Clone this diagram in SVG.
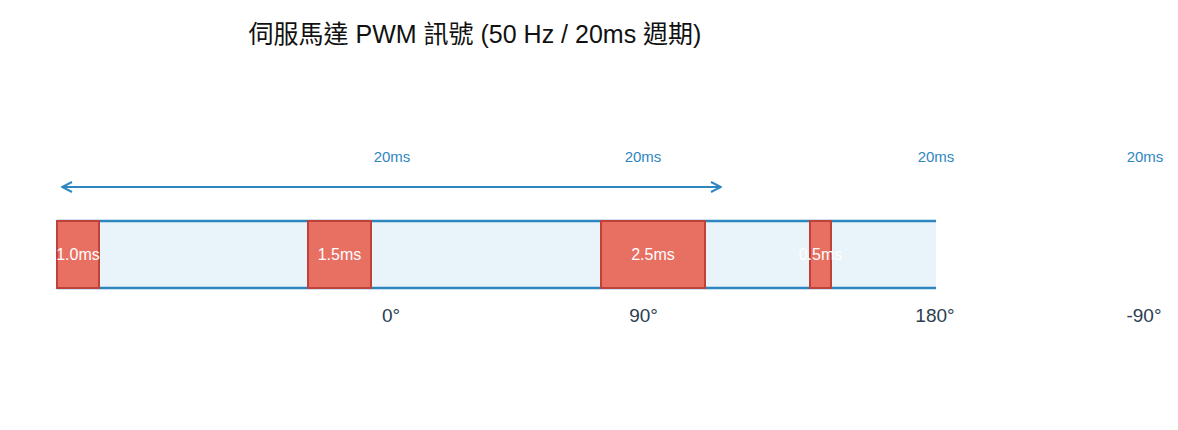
<svg xmlns="http://www.w3.org/2000/svg" width="1178" height="430" viewBox="0 0 1178 430">
<style>
.title{font-family:"Liberation Sans","Noto Sans CJK TC",sans-serif;font-size:25px;fill:#111}
.band{fill:#e8f4f9}
.edge{stroke:#2e86c1;stroke-width:2.5;fill:none}
.pulse{fill:#e87063;stroke:#c0413a;stroke-width:2}
.plabel{font-family:"Liberation Sans",sans-serif;font-size:16px;fill:#ffffff;text-anchor:middle}
.ms{font-family:"Liberation Sans",sans-serif;font-size:15px;fill:#2e86c1;text-anchor:middle}
.deg{font-family:"Liberation Sans",sans-serif;font-size:19px;fill:#2c3e50;text-anchor:middle}
.arrow{stroke:#2e86c1;stroke-width:2;fill:none}
</style>
<defs>
<marker id="chev" viewBox="0 0 12 12" refX="11" refY="6" markerWidth="12" markerHeight="12" markerUnits="userSpaceOnUse" orient="auto-start-reverse">
<path d="M1,1 L11,6 L1,11" fill="none" stroke="#2e86c1" stroke-width="2"/>
</marker>
</defs>
<text class="title" x="475" y="43" text-anchor="middle">伺服馬達 PWM 訊號 (50 Hz / 20ms 週期)</text>
<g id="signal">
<rect class="band" x="57" y="221" width="879" height="67"/>
<line class="edge" x1="57" y1="221" x2="936" y2="221"/>
<line class="edge" x1="57" y1="288" x2="936" y2="288"/>
</g>
<g id="connectors">
<line class="arrow" x1="62" y1="187" x2="721" y2="187" marker-start="url(#chev)" marker-end="url(#chev)"/>
</g>
<g id="pulse1"><rect class="pulse" x="57" y="221" width="42" height="67"/><text class="plabel" x="78" y="260">1.0ms</text></g>
<g id="pulse2"><rect class="pulse" x="308" y="221" width="63" height="67"/><text class="plabel" x="339.5" y="260">1.5ms</text></g>
<g id="pulse3"><rect class="pulse" x="601" y="221" width="104" height="67"/><text class="plabel" x="653" y="260">2.5ms</text></g>
<g id="pulse4"><rect class="pulse" x="810" y="221" width="21" height="67"/><text class="plabel" x="820.5" y="260">0.5ms</text></g>
<g id="periods">
<text class="ms" x="392" y="162">20ms</text>
<text class="ms" x="643" y="162">20ms</text>
<text class="ms" x="936" y="162">20ms</text>
<text class="ms" x="1145" y="162">20ms</text>
</g>
<g id="angles">
<text class="deg" x="391" y="322">0°</text>
<text class="deg" x="643.5" y="322">90°</text>
<text class="deg" x="935" y="322">180°</text>
<text class="deg" x="1144" y="322">-90°</text>
</g>
</svg>
